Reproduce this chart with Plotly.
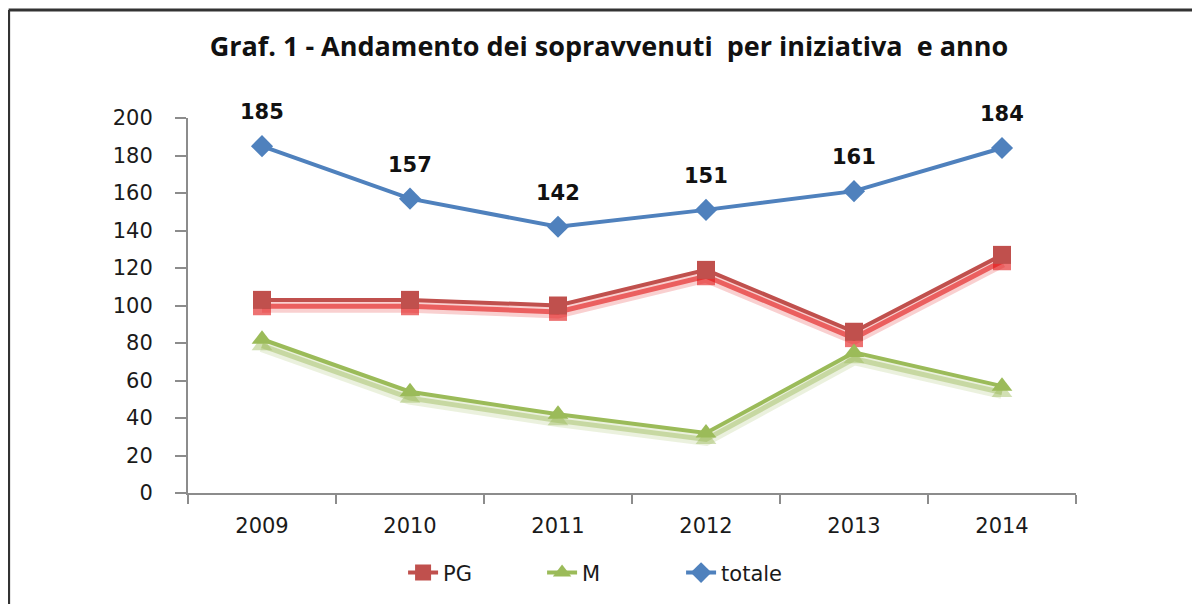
import plotly.graph_objects as go

# data
anni = ["2009", "2010", "2011", "2012", "2013", "2014"]
pg = [103, 103, 100, 119, 86, 127]
m = [82, 54, 42, 32, 75, 57]
totale = [185, 157, 142, 151, 161, 184]

y_ticks = [0, 20, 40, 60, 80, 100, 120, 140, 160, 180, 200]

BLU = "#4F81BD"
ROSSO = "#C0504D"
VERDE = "#9BBB59"
TICK_FONT = dict(family="DejaVu Sans, Verdana, sans-serif", size=21, color="#1a1a1a")

fig = go.Figure()

############################################################################ shadows (drawn on the lower, shifted axis)
for serie, simbolo, col_soft, col_hard in [(pg, "square", "rgba(225,20,20,0.2)", "rgba(225,20,20,0.6)"),
                                           (m, "triangle-up", "rgba(155,187,89,0.2)", "rgba(155,187,89,0.45)")]:
    fig.add_trace(go.Scatter(x=anni, y=serie, mode="lines", yaxis="y",
                             line=dict(color=col_soft, width=13), showlegend=False, hoverinfo="skip"))
    fig.add_trace(go.Scatter(x=anni, y=serie, mode="lines+markers", yaxis="y",
                             line=dict(color=col_hard, width=5),
                             marker=dict(color=col_hard, size=18, symbol=simbolo),
                             showlegend=False, hoverinfo="skip"))

############################################################################ main series
fig.add_trace(go.Scatter(x=anni, y=pg, name="PG", mode="lines+markers", yaxis="y2",
                         line=dict(color=ROSSO, width=4),
                         marker=dict(symbol="square", size=18, color=ROSSO)))
fig.add_trace(go.Scatter(x=anni, y=m, name="M", mode="lines+markers", yaxis="y2",
                         line=dict(color=VERDE, width=4),
                         marker=dict(symbol="triangle-up", size=18, color=VERDE)))
fig.add_trace(go.Scatter(x=anni, y=totale, name="totale", mode="lines+markers", yaxis="y2",
                         line=dict(color=BLU, width=4),
                         marker=dict(symbol="diamond", size=17, color=BLU)))

# labels above totale (x as category index so numeric-looking strings are not read as positions)
for i, v in enumerate(totale):
    fig.add_annotation(x=i, y=v, yref="y2", text=str(v), showarrow=False, yshift=34,
                       font=dict(family="DejaVu Sans, Verdana, sans-serif", size=21, color="#111111",
                                 weight="bold"))

shift = 3.4  # shadow offset in data units (~6px)

fig.update_layout(
    width=1200, height=604,
    paper_bgcolor="white", plot_bgcolor="white",
    margin=dict(l=180, r=132, t=110, b=119),
    title=dict(text="<b>Graf. 1 - Andamento dei sopravvenuti  per iniziativa  e anno</b>",
               x=0.474, xref="paper", xanchor="center", y=0.936, yanchor="middle",
               font=dict(family="Open Sans, Liberation Sans, sans-serif", size=27, color="#111111")),
    xaxis=dict(type="category", range=[-0.5, len(anni) - 0.5], showline=True, linecolor="#8c8c8c",
               linewidth=2, ticks="outside", tickson="boundaries", ticklen=9, tickwidth=2,
               tickcolor="#8c8c8c", tickfont=TICK_FONT, ticklabelstandoff=13,
               showgrid=False, zeroline=False),
    yaxis=dict(range=[shift, 200 + shift], visible=False, showgrid=False, zeroline=False),
    yaxis2=dict(range=[0, 200], overlaying="y", side="left", tickvals=y_ticks,
                showline=True, linecolor="#8c8c8c", linewidth=2,
                ticks="outside", ticklen=11, tickwidth=2, tickcolor="#8c8c8c",
                tickfont=TICK_FONT, ticklabelstandoff=18, showgrid=False, zeroline=False),
    legend=dict(orientation="h", x=0.477, xanchor="center", xref="paper",
                y=-0.213, yanchor="middle", font=TICK_FONT,
                entrywidth=94, entrywidthmode="pixels", traceorder="normal"),
    showlegend=True,
)

# outer frame (only top and left edges are visible in the reference)
fig.add_shape(type="line", xref="paper", yref="paper", x0=-0.202, x1=1.2, y0=1.288, y1=1.288,
              line=dict(color="#333333", width=3))
fig.add_shape(type="line", xref="paper", yref="paper", x0=-0.202, x1=-0.202, y0=1.288, y1=-0.4,
              line=dict(color="#333333", width=3))

fig.write_html("out.html")
